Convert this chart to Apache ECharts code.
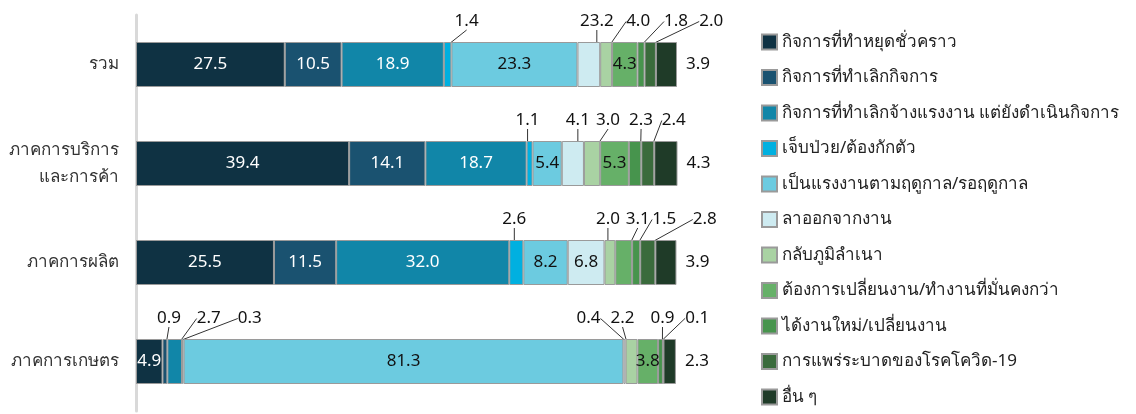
<!DOCTYPE html>
<html>
<head>
<meta charset="utf-8">
<script src="https://cdn.jsdelivr.net/npm/echarts@6/dist/echarts.min.js"></script>
<style>
  html, body { margin: 0; padding: 0; background: #fff; }
  #chart { width: 1136px; height: 414px; }
</style>
</head>
<body>
<div id="chart"></div>
<script>
const categories = ['รวม', 'ภาคการบริการ\nและการค้า', 'ภาคการผลิต', 'ภาคการเกษตร'];
const seriesNames = [
  'กิจการที่ทำหยุดชั่วคราว',
  'กิจการที่ทำเลิกกิจการ',
  'กิจการที่ทำเลิกจ้างแรงงาน แต่ยังดำเนินกิจการ',
  'เจ็บป่วย/ต้องกักตัว',
  'เป็นแรงงานตามฤดูกาล/รอฤดูกาล',
  'ลาออกจากงาน',
  'กลับภูมิลำเนา',
  'ต้องการเปลี่ยนงาน/ทำงานที่มั่นคงกว่า',
  'ได้งานใหม่/เปลี่ยนงาน',
  'การแพร่ระบาดของโรคโควิด-19',
  'อื่น ๆ'
];

// values per category, in legend order
const totalVals   = [27.5, 10.5, 18.9, 1.4, 23.3, 4.2, 2.2, 4.7, 1.3, 2.1, 3.9];
const serviceVals = [39.4, 14.1, 18.7, 1.1, 5.4, 4.1, 3.0, 5.3, 2.3, 2.4, 4.3];
const manufVals   = [25.5, 11.5, 32.0, 2.6, 8.2, 6.8, 2.0, 3.1, 1.5, 2.8, 3.9];
const agriVals    = [4.9, 0.9, 2.7, 0.3, 81.3, 0.4, 2.2, 3.8, 0.9, 0.1, 2.3];

// label texts as printed on the chart (the total row prints some odd numbers)
const totalLabels   = ['27.5', '10.5', '18.9', '1.4', '23.3', '23.2', '4.0', '4.3', '1.8', '2.0', '3.9'];
const serviceLabels = serviceVals.map(v => v.toFixed(1));
const manufLabels   = manufVals.map(v => v.toFixed(1));
const agriLabels    = agriVals.map(v => v.toFixed(1));

const rows = [totalVals, serviceVals, manufVals, agriVals];
const rowLabels = [totalLabels, serviceLabels, manufLabels, agriLabels];

// where each label goes: i = inside, t = above with leader line, r = right of bar
const placement = [
  ['i', 'i', 'i', 't', 'i', 't', 't', 'i', 't', 't', 'r'],
  ['i', 'i', 'i', 't', 'i', 't', 't', 'i', 't', 't', 'r'],
  ['i', 'i', 'i', 't', 'i', 'i', 't', 't', 't', 't', 'r'],
  ['i', 't', 't', 't', 'i', 't', 't', 'i', 't', 't', 'r']
];
// horizontal shift of the "above" labels
const shiftX = [
  [0, 0, 0, 19, 0, 8, 32, 0, 35, 61, 0],
  [0, 0, 0, -2, 0, 5, 16, 0, 6, 26, 0],
  [0, 0, 0, -2, 0, 0, -2, 14, 28, 57, 0],
  [0, 4, 34, 67, 0, -36, -9, 0, 2, 34, 0]
];

const colors = ['#0f3243', '#1a5270', '#1186a8', '#00b0e0', '#6ccbe0', '#ceebf1',
                '#a9d2a3', '#66b068', '#47944d', '#3a6b3c', '#1f3b28'];
const whiteText = [true, true, true, false, false, false, false, false, false, false, false];

const FONT = 'Tahoma, "Noto Sans", sans-serif';

const series = seriesNames.map((name, s) => ({
  name: name,
  type: 'bar',
  stack: 'all',
  barWidth: 45,
  itemStyle: { color: colors[s], borderColor: '#9a9a9a', borderWidth: 1 },
  labelLine: { show: false },
  data: rows.map((vals, r) => {
    const mode = placement[r][s];
    const item = {
      value: vals[s],
      label: {
        show: true,
        formatter: rowLabels[r][s],
        fontFamily: FONT,
        fontSize: 17,
        color: (mode === 'i' && whiteText[s]) ? '#fff' : '#111',
        position: mode === 'i' ? 'inside' : (mode === 't' ? 'top' : 'right'),
        distance: mode === 't' ? 12 : (mode === 'r' ? 9 : 5)
      }
    };
    if (mode === 't') {
      item.labelLine = { show: true, lineStyle: { color: '#333', width: 1 } };
    }
    return item;
  }),
  labelLayout: function (p) {
    const r = p.dataIndex;
    if (placement[r][s] !== 't') return {};
    return { dx: shiftX[r][s] };
  }
}));

const chart = echarts.init(document.getElementById('chart'), null, { renderer: 'canvas' });

chart.setOption({
  animation: false,
  textStyle: { fontFamily: FONT },
  legend: {
    orient: 'vertical',
    left: 761,
    top: 32,
    padding: 0,
    icon: 'rect',
    itemWidth: 15,
    itemHeight: 15,
    itemGap: 15.5,
    textStyle: { fontFamily: FONT, fontSize: 17, color: '#222', lineHeight: 20 },
    data: seriesNames
  },
  grid: { left: 136, top: 15, width: 541, height: 396 },
  xAxis: {
    type: 'value',
    min: 0,
    max: 100,
    show: false
  },
  yAxis: {
    type: 'category',
    inverse: true,
    data: categories,
    offset: 3,
    axisLine: { show: true, lineStyle: { color: '#d9d9d9', width: 3 } },
    axisTick: { show: false },
    axisLabel: {
      margin: 14,
      fontFamily: FONT,
      fontSize: 17,
      color: '#333',
      lineHeight: 27,
      align: 'right'
    }
  },
  series: series
});
</script>
</body>
</html>
